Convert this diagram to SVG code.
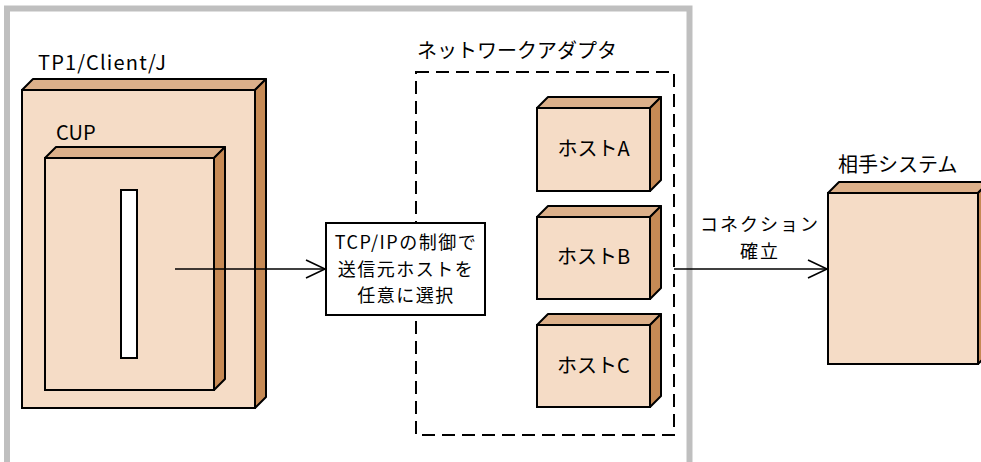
<svg xmlns="http://www.w3.org/2000/svg" width="981" height="462" viewBox="0 0 981 462">
<style>
.front{fill:#f5dcc6;stroke:#000;stroke-width:2}
.top{fill:#dcb08a;stroke:#000;stroke-width:2;stroke-linejoin:round}
.side{fill:#c68a55;stroke:#000;stroke-width:2;stroke-linejoin:round}
.t{font-family:"Noto Sans CJK JP","Noto Sans",sans-serif;font-size:20px;fill:#000}
.s{font-size:18px;letter-spacing:1.5px}
.s2{font-size:18px;letter-spacing:2px}
.c{text-anchor:middle}
.con{fill:none;stroke:#000;stroke-width:1.6}
</style>
<defs>
<marker id="arr" markerWidth="22" markerHeight="22" viewBox="-20 -11 22 22" refX="0" refY="0" orient="auto" markerUnits="userSpaceOnUse">
<path d="M-19,-9 L0,0 L-19,9" fill="none" stroke="#000" stroke-width="1.6"/>
</marker>
</defs>
<rect width="981" height="462" fill="#fff"/>
<path id="frame" d="M7,470 V8.5 H689.5 V470" fill="none" stroke="#bfbfbf" stroke-width="6"/>

<g id="tp1">
<text class="t" x="38" y="70" textLength="128">TP1/Client/J</text>
<polygon class="top" points="22,90 33,79 266,79 255,90"/>
<polygon class="side" points="255,90 266,79 266,397 255,408"/>
<rect class="front" x="22" y="90" width="233" height="318"/>
</g>

<g id="cup">
<text class="t" x="56" y="140">CUP</text>
<polygon class="top" points="45,158 56,147 225,147 214,158"/>
<polygon class="side" points="214,158 225,147 225,379 214,390"/>
<rect class="front" x="45" y="158" width="169" height="232"/>
<rect x="121" y="190" width="16" height="168" fill="#fff" stroke="#000" stroke-width="2"/>
</g>

<g id="adapter">
<text class="t" x="417" y="58">ネットワークアダプタ</text>
<rect x="416" y="72" width="258" height="363" fill="none" stroke="#000" stroke-width="2" stroke-dasharray="13,7"/>
</g>

<g id="tcp">
<rect x="326" y="223" width="159" height="92" fill="#fff" stroke="#000" stroke-width="2"/>
<text class="t s c" x="406" y="249">TCP/IPの制御で</text>
<text class="t s c" x="406" y="275.5">送信元ホストを</text>
<text class="t s c" x="406" y="302">任意に選択</text>
</g>

<g id="hostA">
<polygon class="top" points="537,108 548,97 661,97 650,108"/>
<polygon class="side" points="650,108 661,97 661,180 650,191"/>
<rect class="front" x="537" y="108" width="113" height="83"/>
<text class="t c" x="593.5" y="156">ホストA</text>
</g>

<g id="hostB">
<polygon class="top" points="537,217 548,206 661,206 650,217"/>
<polygon class="side" points="650,217 661,206 661,288 650,299"/>
<rect class="front" x="537" y="217" width="113" height="82"/>
<text class="t c" x="593.5" y="264">ホストB</text>
</g>

<g id="hostC">
<polygon class="top" points="537,325 548,314 661,314 650,325"/>
<polygon class="side" points="650,325 661,314 661,396 650,407"/>
<rect class="front" x="537" y="325" width="113" height="82"/>
<text class="t c" x="593.5" y="373">ホストC</text>
</g>

<g id="remote">
<text class="t" x="838" y="172">相手システム</text>
<polygon class="top" points="828,193 839,182 989,182 978,193"/>
<polygon class="side" points="978,193 989,182 989,353 978,364"/>
<rect class="front" x="828" y="193" width="150" height="171"/>
</g>

<g id="connectors">
<line class="con" x1="175" y1="269" x2="325" y2="269" marker-end="url(#arr)"/>
<line class="con" x1="674" y1="269" x2="827" y2="269" marker-end="url(#arr)"/>
<text class="t s2 c" x="760" y="231">コネクション</text>
<text class="t s2 c" x="760" y="257.5">確立</text>
</g>
</svg>
